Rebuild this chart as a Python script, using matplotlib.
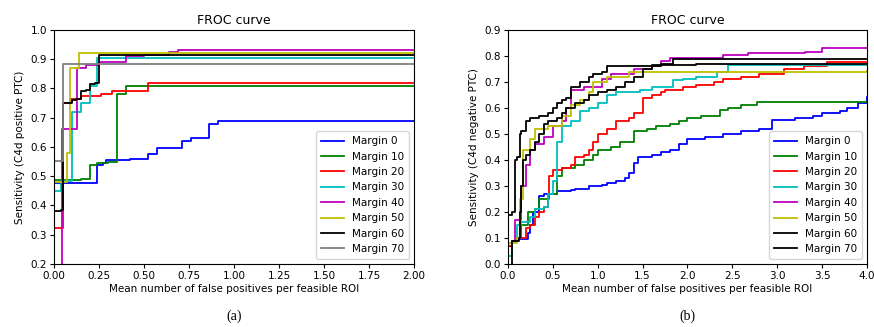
import matplotlib
matplotlib.use("Agg")
import matplotlib.pyplot as plt

labels = ["Margin 0", "Margin 10", "Margin 20", "Margin 30", "Margin 40", "Margin 50", "Margin 60", "Margin 70"]
colors_a = ["b", "g", "r", "c", "m", "y", "k", "gray"]
colors_b = ["b", "g", "r", "c", "m", "y", "k", "k"]

# Panel (a): positive PTC
a_x = [
    [0, 0.24, 0.27, 0.29, 0.42, 0.52, 0.57, 0.71, 0.76, 0.86, 0.91, 2.0],
    [0, 0.15, 0.20, 0.24, 0.30, 0.35, 0.40, 2.0],
    [0, 0.05, 0.09, 0.15, 0.26, 0.32, 0.52, 2.0],
    [0, 0.04, 0.10, 0.15, 0.20, 0.24, 2.0],
    [0.046, 0.047, 0.13, 0.18, 0.25, 0.40, 0.50, 0.64, 0.69, 2.0],
    [0, 0.07, 0.09, 0.14, 2.0],
    [0, 0.04, 0.05, 0.10, 0.12, 0.15, 0.18, 0.20, 0.23, 0.25, 2.0],
    [0, 0.05, 2.0],
]
a_y = [
    [0.478, 0.54, 0.545, 0.555, 0.56, 0.575, 0.595, 0.62, 0.63, 0.68, 0.69, 0.69],
    [0.487, 0.49, 0.537, 0.545, 0.55, 0.78, 0.81, 0.81],
    [0.324, 0.75, 0.765, 0.775, 0.78, 0.79, 0.82, 0.82],
    [0.45, 0.485, 0.72, 0.75, 0.81, 0.905, 0.905],
    [0.2, 0.66, 0.87, 0.88, 0.89, 0.91, 0.915, 0.925, 0.93, 0.93],
    [0.48, 0.58, 0.87, 0.92, 0.92],
    [0.382, 0.385, 0.75, 0.76, 0.765, 0.79, 0.795, 0.815, 0.82, 0.915, 0.915],
    [0.552, 0.885, 0.885],
]

# Panel (b): negative PTC
b_x = [
    [0, 0.05, 0.10, 0.22, 0.25, 0.28, 0.35, 0.40, 0.55, 0.70, 0.75, 0.90, 1.05, 1.10, 1.20, 1.30, 1.35, 1.40, 1.45, 1.60, 1.70, 1.80, 1.90, 2.00, 2.20, 2.40, 2.60, 2.80, 2.94, 3.00, 3.20, 3.40, 3.50, 3.70, 3.78, 3.90, 4.0],
    [0, 0.05, 0.10, 0.15, 0.22, 0.30, 0.35, 0.45, 0.55, 0.60, 0.75, 0.85, 0.95, 1.00, 1.15, 1.25, 1.40, 1.55, 1.65, 1.80, 1.90, 2.00, 2.15, 2.36, 2.45, 2.60, 2.77, 4.0],
    [0, 0.05, 0.10, 0.20, 0.25, 0.30, 0.35, 0.40, 0.45, 0.46, 0.50, 0.60, 0.70, 0.75, 0.85, 0.90, 0.95, 1.00, 1.10, 1.20, 1.35, 1.40, 1.50, 1.60, 1.70, 1.75, 1.95, 2.10, 2.30, 2.40, 2.60, 2.80, 3.07, 3.30, 3.55, 4.0],
    [0, 0.05, 0.10, 0.15, 0.25, 0.30, 0.40, 0.45, 0.50, 0.55, 0.60, 0.70, 0.80, 0.90, 1.00, 1.10, 1.20, 1.47, 1.60, 1.84, 1.95, 2.10, 2.33, 2.45, 4.0],
    [0, 0.05, 0.08, 0.15, 0.20, 0.25, 0.30, 0.40, 0.50, 0.60, 0.65, 0.70, 0.85, 1.05, 1.15, 1.40, 1.60, 1.70, 1.80, 2.40, 2.67, 3.31, 3.50, 4.0],
    [0, 0.10, 0.13, 0.17, 0.25, 0.30, 0.45, 0.60, 0.70, 0.80, 0.90, 0.95, 1.10, 1.35, 4.0],
    [0, 0.05, 0.08, 0.10, 0.13, 0.15, 0.20, 0.25, 0.35, 0.45, 0.50, 0.55, 0.60, 0.65, 0.70, 0.80, 0.90, 0.95, 1.05, 1.10, 1.60, 2.10, 4.0],
    [0.04, 0.05, 0.12, 0.13, 0.15, 0.17, 0.20, 0.25, 0.30, 0.35, 0.40, 0.45, 0.55, 0.60, 0.65, 0.75, 0.85, 0.90, 1.00, 1.10, 1.20, 1.30, 1.40, 1.50, 1.60, 1.70, 1.84, 4.0],
]
b_y = [
    [0.07, 0.09, 0.095, 0.12, 0.15, 0.20, 0.26, 0.27, 0.28, 0.285, 0.29, 0.30, 0.305, 0.31, 0.32, 0.33, 0.35, 0.39, 0.41, 0.42, 0.43, 0.44, 0.46, 0.48, 0.49, 0.50, 0.51, 0.52, 0.554, 0.555, 0.56, 0.57, 0.58, 0.59, 0.60, 0.62, 0.643],
    [0.07, 0.09, 0.10, 0.15, 0.20, 0.21, 0.25, 0.27, 0.34, 0.37, 0.38, 0.40, 0.42, 0.44, 0.45, 0.47, 0.51, 0.52, 0.53, 0.54, 0.55, 0.56, 0.57, 0.592, 0.60, 0.61, 0.624, 0.624],
    [0.07, 0.09, 0.10, 0.14, 0.15, 0.18, 0.20, 0.22, 0.25, 0.34, 0.36, 0.37, 0.38, 0.41, 0.42, 0.44, 0.47, 0.50, 0.52, 0.55, 0.56, 0.58, 0.64, 0.65, 0.66, 0.67, 0.68, 0.69, 0.70, 0.71, 0.72, 0.73, 0.749, 0.76, 0.775, 0.775],
    [0.03, 0.09, 0.15, 0.16, 0.18, 0.21, 0.22, 0.27, 0.32, 0.47, 0.53, 0.55, 0.59, 0.60, 0.62, 0.65, 0.66, 0.669, 0.68, 0.707, 0.71, 0.72, 0.74, 0.766, 0.766],
    [0.08, 0.09, 0.17, 0.30, 0.38, 0.44, 0.46, 0.49, 0.53, 0.55, 0.60, 0.67, 0.68, 0.71, 0.73, 0.75, 0.76, 0.78, 0.791, 0.804, 0.81, 0.815, 0.83, 0.83],
    [0.08, 0.10, 0.25, 0.44, 0.48, 0.52, 0.53, 0.57, 0.61, 0.63, 0.66, 0.70, 0.72, 0.74, 0.743],
    [0.19, 0.20, 0.40, 0.41, 0.50, 0.51, 0.55, 0.56, 0.57, 0.58, 0.60, 0.62, 0.63, 0.64, 0.68, 0.70, 0.72, 0.73, 0.74, 0.76, 0.764, 0.768, 0.768],
    [0.0, 0.09, 0.10, 0.20, 0.30, 0.40, 0.42, 0.44, 0.47, 0.50, 0.54, 0.55, 0.56, 0.58, 0.60, 0.62, 0.63, 0.65, 0.66, 0.67, 0.68, 0.70, 0.72, 0.75, 0.76, 0.77, 0.79, 0.79],
]

a_xticks = [0.00, 0.25, 0.50, 0.75, 1.00, 1.25, 1.50, 1.75, 2.00]
a_yticks = [0.2, 0.3, 0.4, 0.5, 0.6, 0.7, 0.8, 0.9, 1.0]
b_xticks = [0.0, 0.5, 1.0, 1.5, 2.0, 2.5, 3.0, 3.5, 4.0]
b_yticks = [0.0, 0.1, 0.2, 0.3, 0.4, 0.5, 0.6, 0.7, 0.8, 0.9]

fig = plt.figure(figsize=(8.74, 3.27), dpi=100)
ax1 = fig.add_axes([0.0618, 0.1927, 0.4119, 0.7156])
ax2 = fig.add_axes([0.5812, 0.1927, 0.4108, 0.7156])

for i in range(8):
    ax1.plot(a_x[i], a_y[i], drawstyle="steps-post", color=colors_a[i], lw=1.3, label=labels[i])
    ax2.plot(b_x[i], b_y[i], drawstyle="steps-post", color=colors_b[i], lw=1.3, label=labels[i])

fs = 7.5
ax1.set_xlim(0, 2.0)
ax1.set_ylim(0.2, 1.0)
ax1.set_xticks(a_xticks)
ax1.set_xticklabels([f"{v:.2f}" for v in a_xticks])
ax1.set_yticks(a_yticks)
ax1.set_yticklabels([f"{v:.1f}" for v in a_yticks])
ax1.set_ylabel("Sensitivity (C4d positive PTC)", fontsize=fs)

ax2.set_xlim(0, 4.0)
ax2.set_ylim(0.0, 0.9)
ax2.set_xticks(b_xticks)
ax2.set_xticklabels([f"{v:.1f}" for v in b_xticks])
ax2.set_yticks(b_yticks)
ax2.set_yticklabels([f"{v:.1f}" for v in b_yticks])
ax2.set_ylabel("Sensitivity (C4d negative PTC)", fontsize=fs)

for ax, tag in ((ax1, "(a)"), (ax2, "(b)")):
    ax.set_title("FROC curve", fontsize=9, pad=4)
    ax.set_xlabel("Mean number of false positives per feasible ROI", fontsize=fs, labelpad=2)
    ax.tick_params(labelsize=fs, length=3, pad=2)
    ax.legend(loc="lower right", fontsize=7.5, handlelength=2.2, labelspacing=0.52, borderpad=0.45, framealpha=0.8)
    ax.text(0.5, -0.225, tag, transform=ax.transAxes, ha="center", va="center", fontsize=10, family="Liberation Serif")

fig.savefig("out.png", dpi=100)
